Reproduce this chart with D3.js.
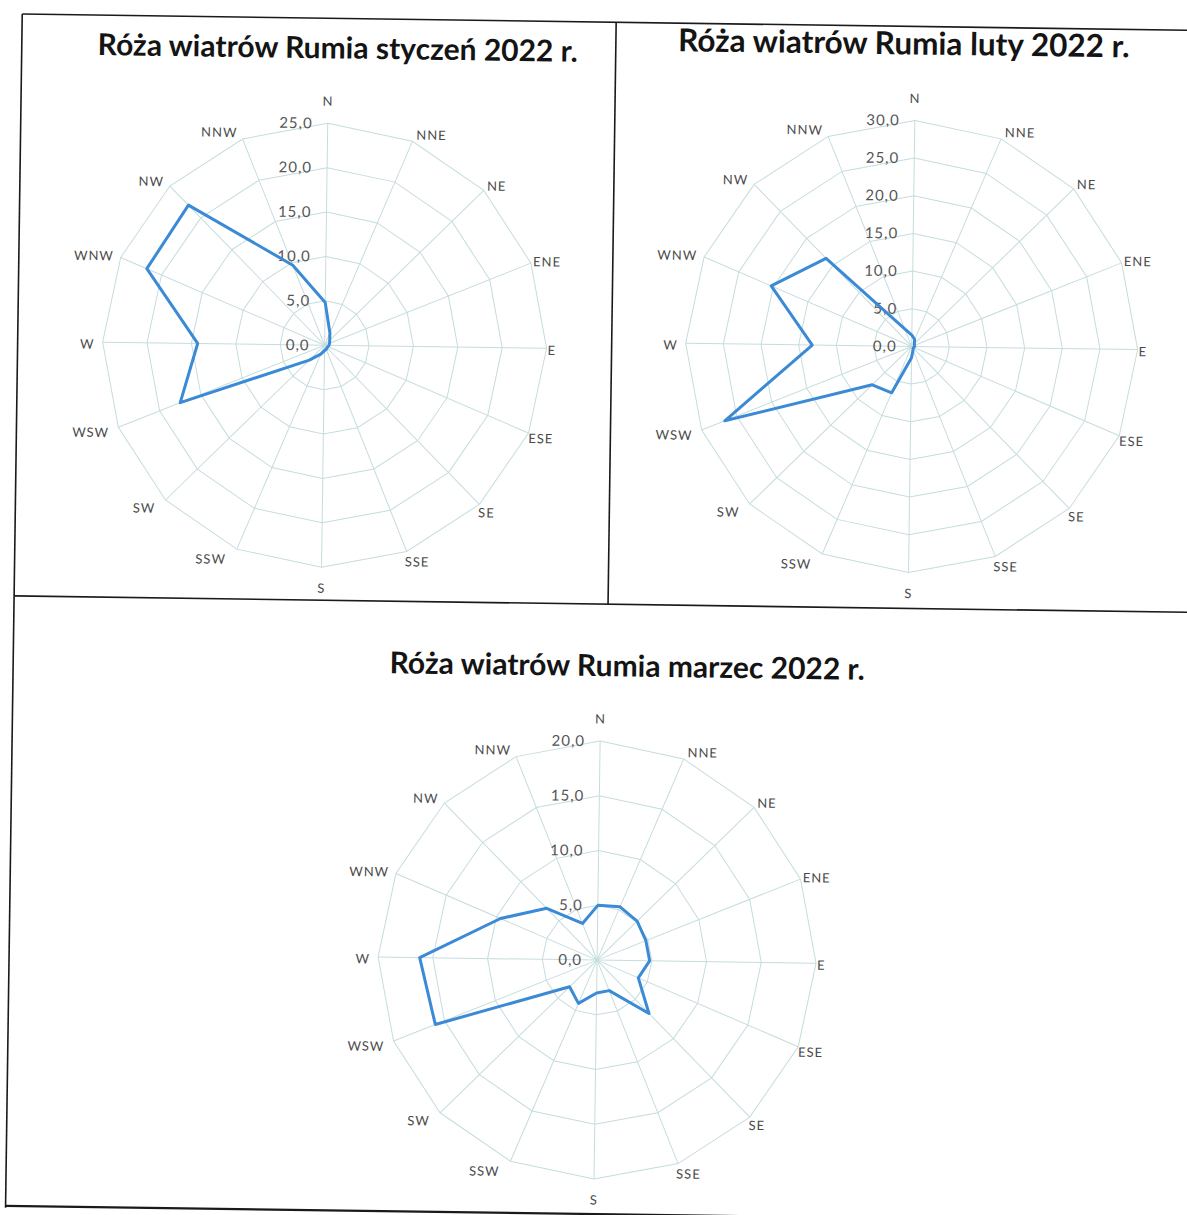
<!DOCTYPE html>
<html>
<head>
<meta charset="utf-8">
<script src="https://cdn.jsdelivr.net/npm/d3@7"></script>
<style>
  body { margin: 0; background: #fff; }
  text { font-family: Lato, "Open Sans", sans-serif; }
</style>
</head>
<body>
<script>
// wind directions, clockwise from north
var directions = ["N", "NNE", "NE", "ENE", "E", "ESE", "SE", "SSE", "S", "SSW", "SW", "WSW", "W", "WNW", "NW", "NNW"];

// frequency [%] per direction
var styczen = [4.8, 1.5, 0.8, 0.6, 0.5, 0.4, 0.4, 0.5, 0.6, 1.1, 2.4, 17.5, 14.3, 21.8, 22.0, 9.7];
var luty = [1.5, 1.0, 0.5, 0.4, 0.4, 0.3, 0.3, 0.5, 1.5, 6.7, 7.3, 26.7, 13.2, 20.3, 16.3, 2.5];
var marzec = [5.0, 5.3, 5.1, 4.8, 4.8, 4.1, 6.8, 3.0, 3.0, 4.3, 3.5, 15.9, 16.2, 9.6, 6.6, 3.6];

var ticksStyczen = [0, 5, 10, 15, 20, 25];
var ticksLuty = [0, 5, 10, 15, 20, 25, 30];
var ticksMarzec = [0, 5, 10, 15, 20];

var titles = ["Róża wiatrów Rumia styczeń 2022 r.", "Róża wiatrów Rumia luty 2022 r.", "Róża wiatrów Rumia marzec 2022 r."];

var width = 1187,
    height = 1215;

var svg = d3.select("body").append("svg")
    .attr("width", width)
    .attr("height", height);

// the source is a slightly tilted scan
var page = svg.append("g")
    .attr("transform", "rotate(0.8 593 607)");

// frames
var frame = page.append("g")
    .attr("stroke", "#1a1a1a")
    .attr("stroke-width", 1.6)
    .attr("fill", "none");
frame.append("line").attr("x1", 14).attr("y1", 22).attr("x2", 1200).attr("y2", 22);
frame.append("line").attr("x1", 14).attr("y1", 22).attr("x2", 14).attr("y2", 1216);
frame.append("line").attr("x1", 608).attr("y1", 22).attr("x2", 608).attr("y2", 604);
frame.append("line").attr("x1", 14).attr("y1", 604).attr("x2", 1200).attr("y2", 604);
frame.append("line").attr("x1", 14).attr("y1", 1214).attr("x2", 1200).attr("y2", 1214).attr("stroke-width", 2.2);

var fmt = function (v) { return d3.format(".1f")(v).replace(".", ","); };

var angle = d3.scalePoint()
    .domain(directions)
    .range([0, 2 * Math.PI - 2 * Math.PI / directions.length]);

function drawRose(values, ticks, title, o) {
    var g = page.append("g")
        .attr("transform", "translate(" + o.cx + "," + o.cy + ")");

    var r = d3.scaleLinear()
        .domain([0, ticks[ticks.length - 1]])
        .range([0, o.radius]);

    // rings
    g.selectAll(".ring")
        .data(ticks.slice(1))
        .enter().append("path")
        .attr("class", "ring")
        .attr("fill", "none")
        .attr("stroke", "#c6dcde")
        .attr("stroke-width", 1)
        .attr("d", function (t) {
            return d3.lineRadial()
                .angle(function (d) { return angle(d); })
                .radius(r(t))
                .curve(d3.curveLinearClosed)(directions);
        });

    // spokes
    g.selectAll(".spoke")
        .data(directions)
        .enter().append("line")
        .attr("class", "spoke")
        .attr("stroke", "#c6dcde")
        .attr("stroke-width", 1)
        .attr("x1", 0).attr("y1", 0)
        .attr("x2", function (d) { return Math.sin(angle(d)) * o.radius; })
        .attr("y2", function (d) { return -Math.cos(angle(d)) * o.radius; });

    // tick labels along north axis
    g.selectAll(".tick")
        .data(ticks)
        .enter().append("text")
        .attr("class", "tick")
        .attr("x", -15)
        .attr("y", function (t) { return -r(t); })
        .attr("dy", "0.35em")
        .attr("text-anchor", "end")
        .attr("font-size", 15)
        .attr("letter-spacing", 1)
        .attr("fill", "#555")
        .text(fmt);

    // direction labels, placed beside the outer vertex like in Excel
    var lab = g.selectAll(".dir")
        .data(directions)
        .enter().append("text")
        .attr("class", "dir")
        .attr("dy", "0.35em")
        .attr("font-size", 13)
        .attr("letter-spacing", 1)
        .attr("fill", "#4a4a4a")
        .text(function (d) { return d; });

    lab.each(function (d) {
        var a = angle(d), s = Math.sin(a), c = Math.cos(a);
        var vx = s * o.radius, vy = -c * o.radius;
        var t = d3.select(this);
        if (Math.abs(s) < 0.01) {
            t.attr("text-anchor", "middle")
                .attr("x", vx)
                .attr("y", c > 0 ? vy - 22 : vy + 21);
        } else if (s > 0) {
            t.attr("text-anchor", "start")
                .attr("x", vx + 1 + 3 * c)
                .attr("y", vy - c * 9 + 2);
        } else {
            t.attr("text-anchor", "end")
                .attr("x", vx - 8 + 3 * c)
                .attr("y", vy - c * 9 + 2);
        }
    });

    // data polygon
    var line = d3.lineRadial()
        .angle(function (d, i) { return angle(directions[i]); })
        .radius(function (d) { return r(d); })
        .curve(d3.curveLinearClosed);

    g.append("path")
        .datum(values)
        .attr("fill", "none")
        .attr("stroke", "#3b8ad6")
        .attr("stroke-width", 3)
        .attr("stroke-linejoin", "round")
        .attr("d", line);

    // title
    page.append("text")
        .attr("x", o.tx)
        .attr("y", o.ty)
        .attr("text-anchor", "middle")
        .attr("font-size", o.ts)
        .attr("font-weight", "bold")
        .attr("fill", "#141414")
        .text(title);
}

drawRose(styczen, ticksStyczen, titles[0], { cx: 321, cy: 349, radius: 222, tx: 330, ty: 62, ts: 30 });
drawRose(luty, ticksLuty, titles[1], { cx: 908, cy: 342, radius: 226, tx: 896, ty: 50, ts: 31.5 });
drawRose(marzec, ticksMarzec, titles[2], { cx: 602, cy: 960, radius: 219, tx: 628, ty: 676, ts: 30 });
</script>
</body>
</html>
